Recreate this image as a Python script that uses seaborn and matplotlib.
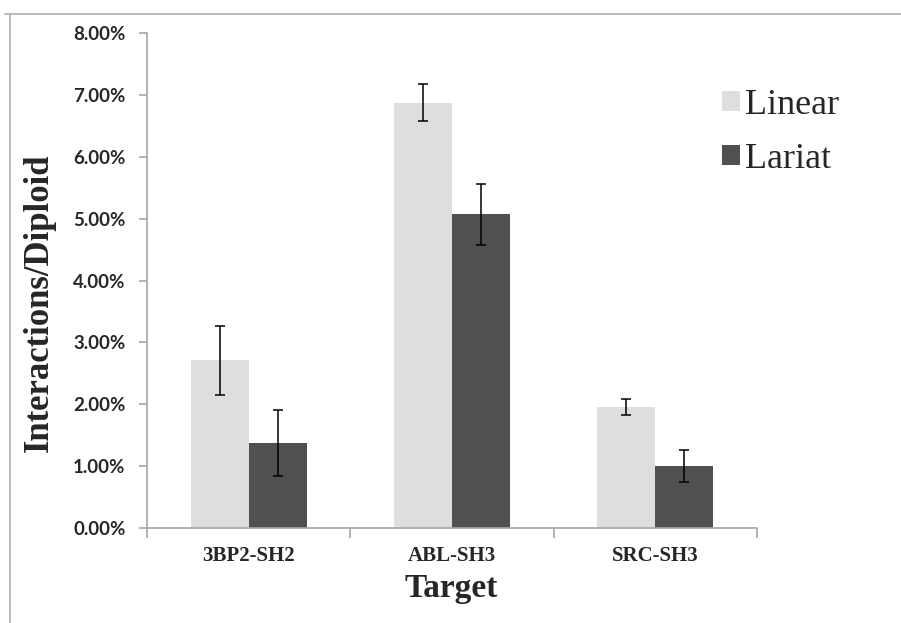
import matplotlib
matplotlib.use("Agg")
import matplotlib.pyplot as plt
from matplotlib.lines import Line2D
from matplotlib.patches import Patch
from matplotlib.ticker import FuncFormatter, FixedLocator
import seaborn as sns
import pandas as pd

categories = ["3BP2-SH2", "ABL-SH3", "SRC-SH3"]
series = ["Linear", "Lariat"]
linear_vals = [0.0271, 0.0687, 0.0195]
lariat_vals = [0.0137, 0.0507, 0.0100]
linear_err = [0.0056, 0.0030, 0.0013]
lariat_err = [0.0053, 0.0049, 0.0026]
y_ticks = [0.0, 0.01, 0.02, 0.03, 0.04, 0.05, 0.06, 0.07, 0.08]
colors = {"Linear": "#DEDEDE", "Lariat": "#505050"}

df = pd.DataFrame({
    "Target": categories * 2,
    "Series": ["Linear"] * 3 + ["Lariat"] * 3,
    "Value": linear_vals + lariat_vals,
    "Err": linear_err + lariat_err,
})

sns.set_style("white")
plt.rcParams["font.family"] = ["DejaVu Sans"]

fig = plt.figure(figsize=(9.01, 6.23), dpi=100)
ax = fig.add_axes([147 / 901, 1 - 528 / 623, (757 - 147) / 901, (528 - 33) / 623])

sns.barplot(data=df, x="Target", y="Value", hue="Series", hue_order=series,
            order=categories, palette=colors, width=0.57, ax=ax,
            errorbar=None, legend=False, saturation=1, edgecolor="none")

# error bars at bar centres
for cont, s in zip(ax.containers, series):
    sub = df[df["Series"] == s].set_index("Target").loc[categories]
    xs = [p.get_x() + p.get_width() / 2 for p in cont.patches]
    ax.errorbar(xs, sub["Value"].values, yerr=sub["Err"].values, fmt="none",
                ecolor="black", elinewidth=1.1, capsize=3.5, capthick=1.1, zorder=5)

ax.set_ylim(0, 0.08)
ax.set_xlim(-0.5, 2.5)
ax.yaxis.set_major_locator(FixedLocator(y_ticks))
ax.yaxis.set_major_formatter(FuncFormatter(lambda v, p: f"{v*100:.2f}%"))

for sp in ["top", "right"]:
    ax.spines[sp].set_visible(False)
for sp in ["left", "bottom"]:
    ax.spines[sp].set_color("#A6A6A6")
    ax.spines[sp].set_linewidth(1.2)

ax.tick_params(axis="y", which="major", direction="out", length=6, width=1.2,
               color="#A6A6A6", pad=9.5, left=True)
for lab in ax.get_yticklabels():
    lab.set_fontfamily("Lato")
    lab.set_fontweight("bold")
    lab.set_fontsize(13.5)

ax.set_xticks([0, 1, 2])
ax.set_xticklabels(categories)
ax.xaxis.set_minor_locator(FixedLocator([-0.5, 0.5, 1.5, 2.5]))
ax.tick_params(axis="x", which="major", length=0, pad=13)
ax.tick_params(axis="x", which="minor", direction="out", length=7, width=1.2,
               color="#A6A6A6", bottom=True)
for lab in ax.get_xticklabels():
    lab.set_fontfamily("Liberation Serif")
    lab.set_fontweight("bold")
    lab.set_fontsize(15)

ax.set_xlabel("Target", fontfamily="Liberation Serif", fontweight="bold",
              fontsize=24, va="center")
ax.xaxis.set_label_coords((451 - 147) / 610, (528 - 589) / 495)
ax.set_ylabel("Interactions/Diploid", fontfamily="Liberation Serif",
              fontweight="bold", fontsize=25, va="center")
ax.yaxis.set_label_coords((39 - 147) / 610, (528 - 303) / 495)

handles = [Patch(facecolor=colors[s], edgecolor="none") for s in series]
leg = ax.legend(handles, series, loc="upper left",
                bbox_to_anchor=(722 / 901, 1 - 89 / 623),
                bbox_transform=fig.transFigure,
                frameon=False, prop={"family": "Liberation Serif", "size": 26},
                handlelength=0.5, handleheight=0.5, handletextpad=0.15,
                labelspacing=0.58, borderaxespad=0, borderpad=0)

# outer frame lines (top and left)
fig.add_artist(Line2D([5 / 901, 1], [1 - 14 / 623, 1 - 14 / 623],
                      transform=fig.transFigure, color="#B4B4B4", lw=1.3))
fig.add_artist(Line2D([10 / 901, 10 / 901], [1 - 14 / 623, 0],
                      transform=fig.transFigure, color="#B4B4B4", lw=1.3))

fig.savefig("out.png", dpi=100)
